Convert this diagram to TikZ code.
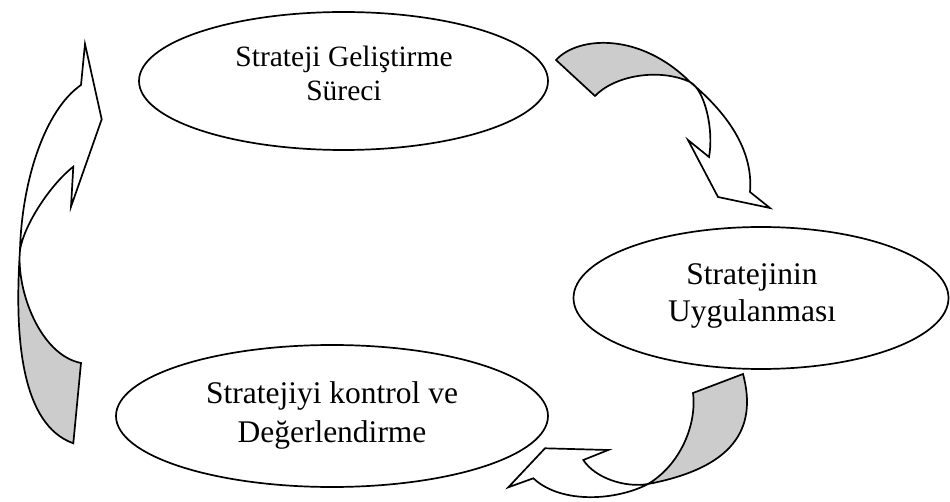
\documentclass[tikz,border=0pt]{standalone}
\usepackage{fontspec}
\setmainfont{Liberation Serif}
\usetikzlibrary{shapes.geometric}
\begin{document}
\begin{tikzpicture}[x=1pt,y=-1pt,line width=1.7pt,line join=miter,
  phase/.style={draw, ellipse, inner sep=0pt},
  lbl/.style={align=center, anchor=base, inner sep=0pt},
  back/.style={fill=black!20}]
\useasboundingbox (0,0) rectangle (950,502);

% the three phases of the cycle
\node[phase, minimum width=409pt, minimum height=138pt] (dev) at (343.5,81) {};
\node[phase, minimum width=375pt, minimum height=142pt] (impl) at (761,298) {};
\node[phase, minimum width=432pt, minimum height=142pt] (ctrl) at (332,416) {};

% labels, placed by the baseline of their last line
\node[lbl, font=\fontsize{29.5}{34}\selectfont] (devtxt) at (344,101) {Strateji Geliştirme\\Süreci};
\node[lbl, font=\fontsize{31.5}{37}\selectfont] (impltxt) at (752,322) {Stratejinin\\Uygulanması};
\node[lbl, font=\fontsize{31.5}{39}\selectfont] (ctrltxt) at (332,442) {Stratejiyi kontrol ve\\Değerlendirme};

% twisted ribbon arrow: development -> implementation
\fill[back] (556,60) .. controls (578,36) and (640,32) .. (690,82)
  .. controls (660,68) and (615,75) .. (595,96) -- cycle;
\draw (556,60) .. controls (578,36) and (640,32) .. (690,82)
  .. controls (720,107) and (754,145) .. (750,192)
  -- (770,208) -- (718,197) -- (688,140) -- (709,157)
  .. controls (714,130) and (705,90) .. (690,82)
  .. controls (660,68) and (615,75) .. (595,96) -- cycle;

% twisted ribbon arrow: implementation -> control
\fill[back] (693,393) -- (743,374) .. controls (758,430) and (732,468) .. (648,484)
  .. controls (680,465) and (697,425) .. (693,393);
\draw (693,393) -- (743,374) .. controls (758,430) and (732,468) .. (648,484)
  .. controls (618,500) and (562,505) .. (533.3,478.3)
  -- (508.3,487.3) -- (545,448.3) -- (608.3,450) -- (583.3,460)
  .. controls (595,478) and (625,488) .. (648,484)
  .. controls (680,465) and (697,425) .. (693,393) -- cycle;

% twisted ribbon arrow: control -> development
\fill[back] (20,250) .. controls (14,340) and (22,425) .. (73.3,443.3) -- (81,363)
  .. controls (40,355) and (16,290) .. (20,250);
\draw (81,85) .. controls (45,110) and (22,180) .. (20,250)
  .. controls (14,340) and (22,425) .. (73.3,443.3) -- (81,363)
  .. controls (40,355) and (16,290) .. (20,250)
  .. controls (24,225) and (50,185) .. (73.3,166.7)
  -- (71,206.7) -- (101.7,119.3) -- (85,44) -- cycle;
\end{tikzpicture}
\end{document}
